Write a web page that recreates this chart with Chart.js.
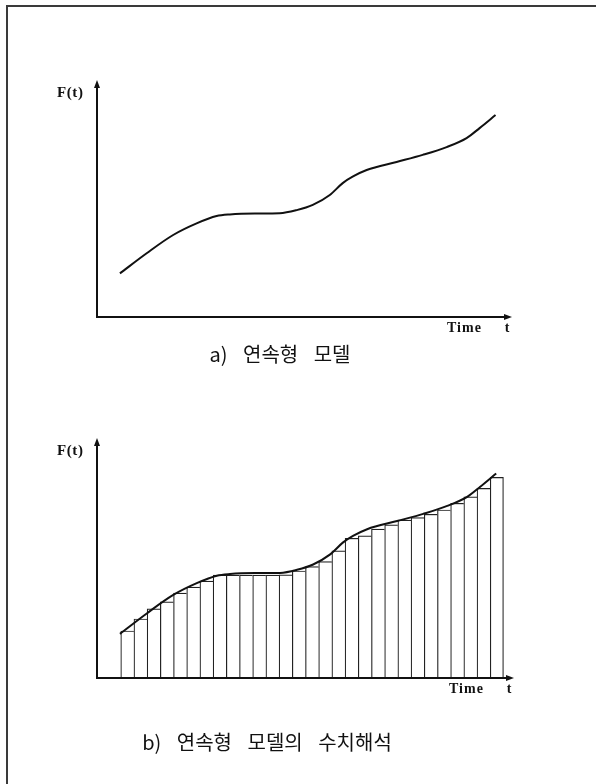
<!DOCTYPE html>
<html><head><meta charset="utf-8">
<script src="https://cdn.jsdelivr.net/npm/chart.js@4.4.0/dist/chart.umd.min.js"></script>
<style>
html,body{margin:0;padding:0;background:#fff;}
body{width:596px;height:784px;position:relative;overflow:hidden;}
#frame{position:absolute;left:6px;top:5px;width:620px;height:820px;border-top:2px solid #3a3a3a;border-left:2px solid #3a3a3a;}
canvas{position:absolute;left:0;}
.cap{position:absolute;font-family:'Noto Sans CJK KR','Noto Sans CJK SC',sans-serif;font-size:20px;color:#111;white-space:pre;word-spacing:11px;transform:translateX(-50%);line-height:20px;}
</style></head>
<body>
<div id="frame"></div>
<canvas id="ca" width="596" height="380" style="top:0"></canvas>
<canvas id="cb" width="596" height="404" style="top:380px"></canvas>
<div class="cap" id="capA" style="left:280px;top:344px">a) 연속형 모델</div>
<div class="cap" id="capB" style="left:267px;top:732px">b) 연속형 모델의 수치해석</div>
<script>
// continuous model F(t): time values and function values
const curveT = [1.74, 3.77, 5.78, 7.56, 9.08, 10.08, 11.98, 13.87, 15.16, 16.38, 17.67, 18.65, 19.4, 20.47, 22.74, 24.72, 26.54, 28.05, 29.04, 30.25];
const curveF = [18.4, 26.9, 34.6, 39.5, 42.6, 43.3, 43.7, 43.8, 45.1, 47.3, 51.5, 56.5, 59.2, 62.0, 65.4, 68.4, 71.7, 75.5, 79.7, 85.2];
// numerical analysis: step centres and step heights
const barT = [2.3, 3.3, 4.3, 5.3, 6.3, 7.3, 8.3, 9.3, 10.3, 11.3, 12.3, 13.3, 14.3, 15.3, 16.3, 17.3, 18.3, 19.3, 20.3, 21.3, 22.3, 23.3, 24.3, 25.3, 26.3, 27.3, 28.3, 29.3, 30.3];
const barF = [19.6, 24.6, 28.8, 31.7, 35.4, 37.9, 40.4, 42.9, 42.9, 42.9, 42.9, 42.9, 43.0, 44.6, 46.4, 48.5, 53.0, 58.2, 59.2, 62.0, 63.8, 65.8, 66.8, 68.2, 70.0, 72.8, 75.5, 79.0, 83.6];
const yLabel = 'F(t)';
const xLabel = 'Time';
const xSym = 't';

const curvePts = curveT.map((t, i) => ({x: t, y: curveF[i]}));
const barPts = barT.map((t, i) => ({x: t, y: barF[i]}));

const axesPlugin = {
  id: 'arrowAxes',
  afterDatasetsDraw(chart) {
    const ctx = chart.ctx;
    const xs = chart.scales.x, ys = chart.scales.y;
    const x0 = xs.getPixelForValue(0), y0 = ys.getPixelForValue(0);
    const xE = xs.getPixelForValue(xs.max), yE = ys.getPixelForValue(ys.max);
    ctx.save();
    ctx.strokeStyle = '#111';
    ctx.fillStyle = '#111';
    ctx.lineWidth = 2;
    ctx.beginPath();
    ctx.moveTo(x0, y0 + 1); ctx.lineTo(x0, yE + 6);
    ctx.moveTo(x0 - 1, y0); ctx.lineTo(xE - 6, y0);
    ctx.stroke();
    ctx.beginPath();
    ctx.moveTo(x0, yE); ctx.lineTo(x0 - 3, yE + 8); ctx.lineTo(x0 + 3, yE + 8); ctx.closePath(); ctx.fill();
    ctx.beginPath();
    ctx.moveTo(xE, y0); ctx.lineTo(xE - 8, y0 - 3); ctx.lineTo(xE - 8, y0 + 3); ctx.closePath(); ctx.fill();
    ctx.textBaseline = 'alphabetic';
    ctx.font = 'bold 15px "Liberation Serif", serif';
    ctx.letterSpacing = '0.6px';
    ctx.textAlign = 'left';
    ctx.fillText(yLabel, x0 - 40, yE + 17);
    ctx.font = 'bold 14px "Liberation Serif", serif';
    ctx.letterSpacing = '1px';
    ctx.fillText(xLabel, xE - 65, y0 + 15);
    ctx.letterSpacing = '0px';
    ctx.textAlign = 'center';
    ctx.fillText(xSym, xE - 5, y0 + 15);
    ctx.restore();
  }
};

function baseOptions(xMax, pad) {
  return {
    responsive: false,
    devicePixelRatio: 1,
    animation: false,
    layout: {padding: pad},
    plugins: {legend: {display: false}, tooltip: {enabled: false}},
    scales: {
      x: {type: 'linear', min: 0, max: xMax, display: false, offset: false},
      y: {type: 'linear', min: 0, max: 100, display: false}
    }
  };
}

new Chart(document.getElementById('ca'), {
  type: 'line',
  data: {datasets: [{
    data: curvePts, borderColor: '#111', borderWidth: 2, pointRadius: 0,
    cubicInterpolationMode: 'monotone', fill: false
  }]},
  options: baseOptions(31.5, {left: 97, right: 84, top: 80, bottom: 63}),
  plugins: [axesPlugin]
});

new Chart(document.getElementById('cb'), {
  type: 'bar',
  data: {datasets: [
    {type: 'line', data: curvePts, borderColor: '#111', borderWidth: 2, pointRadius: 0,
     cubicInterpolationMode: 'monotone', fill: false, order: 0},
    {type: 'bar', data: barPts, backgroundColor: '#fff', borderColor: '#222',
     borderWidth: (c) => ({top: 1.2, left: 1.2, bottom: 0, right: c.dataIndex === barPts.length - 1 ? 1.2 : 0}),
     borderSkipped: false, barPercentage: 1, categoryPercentage: 1, order: 1}
  ]},
  options: baseOptions(31.6, {left: 97, right: 82, top: 58, bottom: 106}),
  plugins: [axesPlugin]
});
</script>
</body></html>
